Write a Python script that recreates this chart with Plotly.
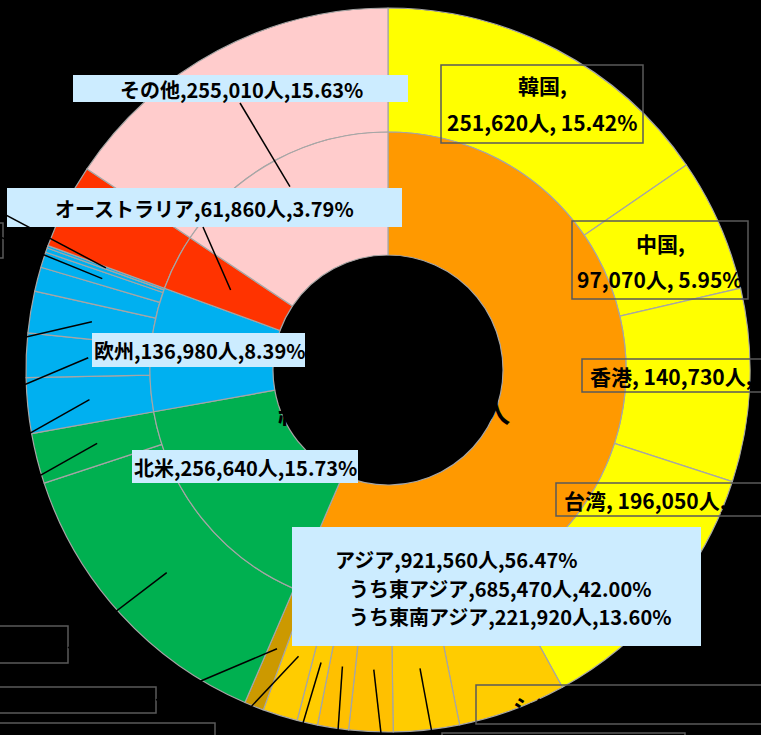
import math
import plotly.graph_objects as go

# ---------------- data ----------------
region_names = ["アジア", "北米", "欧州", "オーストラリア", "その他"]
region_values = [921560, 256640, 136980, 61860, 255010]

country_names = ["韓国", "中国", "香港", "台湾",
                 "シンガポール", "タイ", "マレーシア", "フィリピン", "ベトナム", "インドネシア",
                 "その他アジア",
                 "アメリカ", "カナダ",
                 "イギリス", "フランス", "ドイツ", "イタリア", "スペイン", "ロシア", "その他欧州",
                 "オーストラリア", "その他"]
country_values = [251620, 97070, 140730, 196050,
                  78800, 48000, 32100, 22600, 15000, 25420,
                  14170,
                  219900, 36740,
                  40350, 32190, 30375, 17680, 11330, 3170, 1885,
                  61860, 255010]
country_groups = ["東アジア"] * 4 + ["東南アジア"] * 6 + ["その他アジア"] + \
                 ["北米"] * 2 + ["欧州"] * 7 + ["オーストラリア"] + ["その他"]

# ---------------- styles ----------------
region_colors = ["#FF9900", "#00B050", "#00B0F0", "#FF3300", "#FFCCCC"]
country_colors = ["#FFFF00"] * 4 + ["#FFCC00", "#FFCC00", "#FFC000", "#FFC000", "#FFCC00", "#FFCC00"] + \
                 ["#CC9900"] + ["#00B050"] * 2 + ["#00B0F0"] * 7 + ["#FF3300", "#FFCCCC"]

W, H = 761, 735
CX, CY = 388, 370
R_OUT, R_MID, R_IN = 362, 238, 115
FONT = "Noto Sans CJK JP"
EDGE = "#A6A6A6"
LABEL_BG = "#CCECFF"
BOX_LINE = "#595959"

total = sum(region_values)


def px(x):
    return x / W


def py(y):
    return 1 - y / H


def pct(v):
    return v / total * 100


def mid_point(values, idx, r):
    tot = sum(values)
    c = sum(values[:idx]) + values[idx] / 2
    th = 2 * math.pi * c / tot
    return CX + r * math.sin(th), CY - r * math.cos(th)


fig = go.Figure()
fig.add_trace(go.Pie(
    labels=country_names, values=country_values, sort=False, direction="clockwise",
    rotation=0, hole=R_MID / R_OUT, textinfo="none", hoverinfo="label+value+percent",
    marker=dict(colors=country_colors, line=dict(color=EDGE, width=1.2)),
    domain=dict(x=[px(CX - R_OUT), px(CX + R_OUT)], y=[py(CY + R_OUT), py(CY - R_OUT)]),
    showlegend=False,
))
fig.add_trace(go.Pie(
    labels=region_names, values=region_values, sort=False, direction="clockwise",
    rotation=0, hole=R_IN / R_MID, textinfo="none", hoverinfo="label+value+percent",
    marker=dict(colors=region_colors, line=dict(color=EDGE, width=1.2)),
    domain=dict(x=[px(CX - R_MID), px(CX + R_MID)], y=[py(CY + R_MID), py(CY - R_MID)]),
    showlegend=False,
))

shapes = []
annotations = []


def rect(x0, y0, x1, y1, fill=None, line=None):
    shapes.append(dict(type="rect", xref="paper", yref="paper", layer="above",
                       x0=px(x0), x1=px(x1), y0=py(y1), y1=py(y0),
                       fillcolor=fill if fill else "rgba(0,0,0,0)",
                       line=dict(color=line if line else "rgba(0,0,0,0)", width=1.5 if line else 0)))


def text(x, y, s, anchor="center", size=20, color="black"):
    annotations.append(dict(xref="paper", yref="paper", x=px(x), y=py(y), text=s,
                            showarrow=False, xanchor=anchor, yanchor="middle",
                            font=dict(family=FONT, size=size, color=color, weight="bold")))


# label boxes (light blue = region labels)
rect(73, 75, 408, 102, fill=LABEL_BG)
rect(7, 188, 402, 227, fill=LABEL_BG)
rect(92, 333, 305, 367, fill=LABEL_BG)
rect(132, 450, 358, 483, fill=LABEL_BG)
rect(292, 527, 701, 646, fill=LABEL_BG)
# framed boxes (country labels)
rect(441, 65, 643, 143, line=BOX_LINE)
rect(572, 221, 748, 299, line=BOX_LINE)
rect(582, 359, 820, 392, line=BOX_LINE)
rect(556, 483, 820, 516, line=BOX_LINE)
rect(476, 685, 820, 724, line=BOX_LINE)
rect(442, 733, 685, 790, line=BOX_LINE)
rect(-120, 626, 68, 663, line=BOX_LINE)
rect(-120, 687, 156, 713, line=BOX_LINE)
rect(-120, 723, 215, 790, line=BOX_LINE)
rect(-120, 223, 3, 258, line=BOX_LINE)

# leader lines: (ring, index, radius of the slice end, label end point)
R_OUT_MID = (R_MID + R_OUT) / 2
R_IN_MID = (R_IN + R_MID) / 2
leaders = [
    ("outer", 10, R_OUT_MID, (156, 700)), ("outer", 9, R_OUT_MID, (215, 745)),
    ("outer", 8, R_OUT_MID, (292, 760)), ("outer", 7, R_OUT_MID, (336, 760)),
    ("outer", 6, R_OUT_MID, (384, 760)), ("outer", 5, R_OUT_MID, (437, 760)),
    ("outer", 11, R_OUT_MID, (68, 648)), ("outer", 12, R_OUT_MID, (0, 498)),
    ("outer", 13, R_OUT_MID, (0, 450)), ("outer", 14, R_OUT_MID, (0, 395)),
    ("outer", 15, R_OUT_MID, (0, 343)), ("outer", 17, R_OUT_MID, (0, 237)),
    ("outer", 19, R_OUT_MID, (0, 212)),
    ("inner", 4, 208, (240, 103)), ("inner", 3, R_IN_MID, (203, 227)),
]
for ring, idx, rr, (ex, ey) in leaders:
    vals = country_values if ring == "outer" else region_values
    sx, sy = mid_point(vals, idx, rr)
    shapes.append(dict(type="line", xref="paper", yref="paper", layer="above",
                       x0=px(sx), y0=py(sy), x1=px(ex), y1=py(ey),
                       line=dict(color="black", width=1.5)))


# region label texts
def rlabel(i):
    return f"{region_names[i]},{region_values[i]:,}人,{pct(region_values[i]):.2f}%"


text(241, 89, rlabel(4))
text(204, 208, rlabel(3))
text(199, 350, rlabel(2))
text(245, 467, rlabel(1))
text(333, 559, rlabel(0), anchor="left")
for g, yy in [("東アジア", 588), ("東南アジア", 616)]:
    gv = sum(v for v, gg in zip(country_values, country_groups) if gg == g)
    text(347, yy, f"うち{g},{gv:,}人,{pct(gv):.2f}%", anchor="left")


# country label texts
def cnum(i):
    return f"{country_values[i]:,}人, {pct(country_values[i]):.2f}%"


text(542, 85, country_names[0] + ",", size=21)
text(542, 122, cnum(0), size=21)
text(660, 243, country_names[1] + ",", size=21)
text(660, 279, cnum(1), size=21)
text(588, 376, f"{country_names[2]}, {cnum(2)}", anchor="left", size=21)
text(562, 500, f"{country_names[3]}, {cnum(3)}", anchor="left", size=21)
text(511, 705, f"{country_names[4]}, {cnum(4)}", anchor="left", size=21)

# centre title (black on black, only its edges show over the ring)
text(394, 410, f"総計 {total:,}人", size=29)

fig.update_layout(
    width=W, height=H, margin=dict(l=0, r=0, t=0, b=0),
    paper_bgcolor="black", plot_bgcolor="black",
    shapes=shapes, annotations=annotations, showlegend=False,
)
fig.write_html("out.html", config={"displayModeBar": False},
               post_script="document.body.style.margin='0';document.body.style.overflow='hidden';")
